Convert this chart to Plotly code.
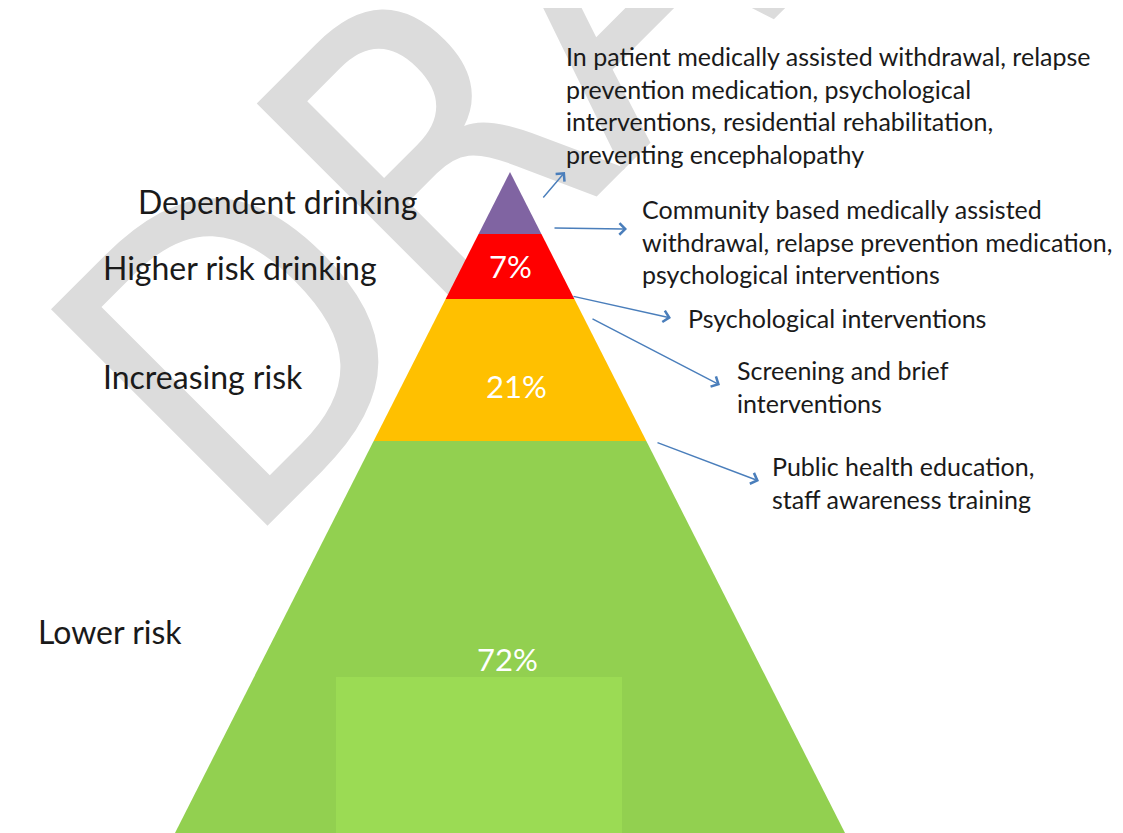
import plotly.graph_objects as go

# ---------------- data ----------------
tiers = ["Dependent drinking", "Higher risk drinking", "Increasing risk", "Lower risk"]
shares = [None, 7, 21, 72]          # % of drinkers in tier
tier_colors = ["#8064A2", "#FF0000", "#FFC000", "#92D050"]
interventions = [
    ["In patient medically assisted withdrawal, relapse",
     "prevention medication, psychological",
     "interventions, residential rehabilitation,",
     "preventing encephalopathy"],
    ["Community based medically assisted",
     "withdrawal, relapse prevention medication,",
     "psychological interventions"],
    ["Psychological interventions"],
    ["Screening and brief",
     "interventions"],
    ["Public health education,",
     "staff awareness training"],
]
watermark = "DRAFT"

# ---------------- layout (page-pixel geometry) ----------------
W, H = 1123, 833
PAD = 8                               # browser body margin
apex_x, apex_y = 510, 172
slope = 335 / 661                     # half-width per px of depth
tier_edges = [172, 234, 299, 441, 833]
tier_label_pos = [(136, 201), (101, 267), (101, 376), (36, 631)]
share_label_pos = [None, (510, 266), (516, 386), (507, 659)]
block_pos = [(564, 56), (640, 209), (686, 318), (735, 370), (770, 466)]
line_gap = 32.5
arrows = [((542, 199), (565, 172)), ((553, 228), (627, 229)), ((572, 296), (671, 318)),
          ((591, 318), (720, 385)), ((656, 442), (759, 481))]
inner_rect = (336, 622, 677, 833)
wm_center = (554, -9)
wm_size = 420

def half(y):
    return (y - apex_y) * slope

fig = go.Figure()

for i, name in enumerate(tiers):
    y0, y1 = tier_edges[i], tier_edges[i + 1]
    xs = [apex_x - half(y0), apex_x + half(y0), apex_x + half(y1), apex_x - half(y1), apex_x - half(y0)]
    ys = [y0, y0, y1, y1, y0]
    fig.add_trace(go.Scatter(x=xs, y=ys, fill="toself", fillcolor=tier_colors[i],
                             mode="lines", line=dict(width=0), hoverinfo="skip",
                             showlegend=False, name=name))

rx0, rx1, ry0, ry1 = inner_rect
fig.add_trace(go.Scatter(x=[rx0, rx1, rx1, rx0, rx0], y=[ry0, ry0, ry1, ry1, ry0],
                         fill="toself", fillcolor="#9BDB54", mode="lines",
                         line=dict(width=0), hoverinfo="skip", showlegend=False))

# watermark (behind everything)
cx, cy = wm_center
fig.add_shape(type="rect", xref="x", yref="y", x0=cx - 4, x1=cx + 4, y0=cy - 4, y1=cy + 4,
              line=dict(width=0), fillcolor="rgba(0,0,0,0)", layer="below",
              label=dict(text=watermark, textangle=-45, textposition="middle center",
                         font=dict(family="DejaVu Sans Condensed, DejaVu Sans, sans-serif",
                                   size=wm_size, color="#DCDCDC")))

label_font = "Lato, Carlito, Open Sans, sans-serif"
for name, (x, y) in zip(tiers, tier_label_pos):
    fig.add_annotation(x=x, y=y, text=name, showarrow=False, xanchor="left", yanchor="middle",
                       font=dict(family=label_font, size=32, color="#1A1A1A"))

for s, pos in zip(shares, share_label_pos):
    if s is None:
        continue
    fig.add_annotation(x=pos[0], y=pos[1], text=f"{s}%", showarrow=False,
                       xanchor="center", yanchor="middle",
                       font=dict(family=label_font, size=31, color="#FFFFFF"))

for lines, (x, y) in zip(interventions, block_pos):
    for j, line in enumerate(lines):
        fig.add_annotation(x=x, y=y + j * line_gap, text=line, showarrow=False,
                           xanchor="left", yanchor="middle",
                           font=dict(family=label_font, size=25, color="#1A1A1A"))

for (tx, ty), (hx, hy) in arrows:
    fig.add_annotation(x=hx, y=hy, ax=tx, ay=ty, axref="x", ayref="y", xref="x", yref="y",
                       text="", showarrow=True, arrowhead=4, arrowsize=1.6,
                       arrowwidth=1.4, arrowcolor="#4A7EBB")

fig.update_layout(width=W - PAD, height=H - PAD, margin=dict(l=0, r=0, t=0, b=0),
                  plot_bgcolor="white", paper_bgcolor="white", showlegend=False,
                  xaxis=dict(range=[PAD, W], visible=False, fixedrange=True),
                  yaxis=dict(range=[H, PAD], visible=False, fixedrange=True))

fig.write_html("out.html")
